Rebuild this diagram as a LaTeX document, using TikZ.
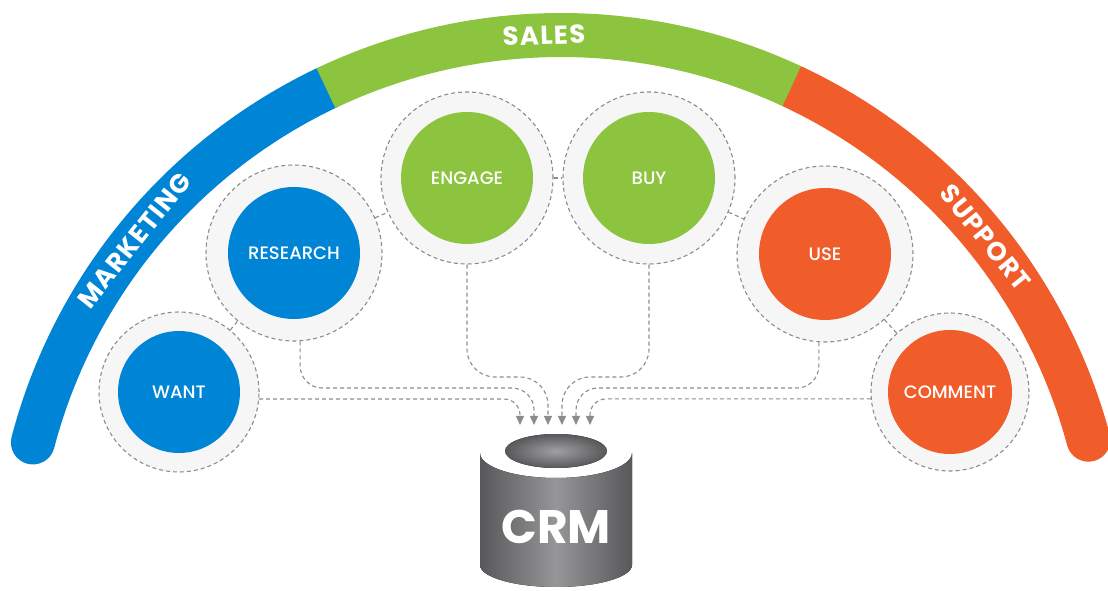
\documentclass[tikz,border=0pt]{standalone}
\usepackage{fontspec}
\setmainfont{Poppins}
\newfontfamily\labelfont{Poppins Medium}
\usetikzlibrary{positioning,arrows.meta}

\definecolor{mktblue}{RGB}{0,132,214}
\definecolor{salesgreen}{RGB}{141,196,63}
\definecolor{suporange}{RGB}{240,92,42}
\definecolor{ringgray}{RGB}{246,246,246}
\definecolor{dashgray}{RGB}{140,140,140}
\definecolor{crmdark}{RGB}{88,88,90}
\definecolor{crmlight}{RGB}{150,150,152}

\tikzset{
  ring/.style={circle, inner sep=0, minimum size=#1, fill=ringgray, draw=dashgray,
    line width=1.1pt, dash pattern=on 4pt off 3pt},
  stage/.style={circle, inner sep=0, fill=#1, text=white,
    font=\labelfont\fontsize{18}{20}\selectfont},
  band/.style={line width=44pt, draw=#1},
  bandtext/.style={text=white, font=\fontsize{26}{28}\selectfont\bfseries\addfontfeature{LetterSpace=5}},
  link/.style={draw=dashgray, line width=1.1pt, dash pattern=on 4pt off 3pt},
  feed/.style={link, rounded corners=#1, -{Triangle[width=8pt,length=9pt]}}
}

\begin{document}
\begin{tikzpicture}[x=1pt, y=1pt]
\useasboundingbox (0,0) rectangle (1108,591);

\def\cx{561}
\def\cy{10}
\def\R{546}

\draw[band=mktblue, line cap=round] (\cx,\cy) ++(165.3:\R) arc[start angle=165.3, end angle=115.5, radius=\R];
\draw[band=suporange, line cap=round] (\cx,\cy) ++(65:\R) arc[start angle=65, end angle=15, radius=\R];
\draw[band=salesgreen] (\cx,\cy) ++(115.5:\R) arc[start angle=115.5, end angle=65, radius=\R];

\node[bandtext, rotate=51.4] (marketing) at ([shift={(141.4:\R)}]\cx,\cy) {MARKETING};
\node[bandtext, rotate=1.8] (sales) at ([shift={(91.8:\R)}]\cx,\cy) {SALES};
\node[bandtext, rotate=-51] (support) at ([shift={(39:\R)}]\cx,\cy) {SUPPORT};

\node[ring=160pt] (wantring) at (179,199) {};
\node[ring=176pt] (researchring) at (294,338) {};
\node[ring=172pt] (engagering) at (467,413) {};
\node[ring=172pt] (buyring) at (649,413) {};
\node[ring=176pt] (usering) at (825,337) {};
\node[ring=158pt] (commentring) at (950,199) {};

\draw[link] (wantring) -- (researchring);
\draw[link] (researchring) -- (engagering);
\draw[link] (engagering) -- (buyring);
\draw[link] (buyring) -- (usering);
\draw[link] (usering) -- (commentring);

\node[stage=mktblue, minimum size=122pt] (want) at (wantring) {WANT};
\node[stage=mktblue, minimum size=132pt] (research) at (researchring) {RESEARCH};
\node[stage=salesgreen, minimum size=132pt] (engage) at (engagering) {ENGAGE};
\node[stage=salesgreen, minimum size=132pt] (buy) at (buyring) {BUY};
\node[stage=suporange, minimum size=132pt] (use) at (usering) {USE};
\node[stage=suporange, minimum size=124pt] (comment) at (commentring) {COMMENT};

\foreach \i/\x in {1/520,2/534,3/548,4/562,5/576,6/590}
  \coordinate (tip\i) at (\x,166);

\draw[feed=16pt] (wantring.-5) -| (tip1);
\draw[feed=22pt] (researchring.-86) |- ([yshift=37pt]tip2) -- (tip2);
\draw[feed=28pt] (engagering.south) |- ([yshift=48pt]tip3) -- (tip3);
\draw[feed=28pt] (buyring.south) |- ([yshift=48pt]tip4) -- (tip4);
\draw[feed=22pt] (usering.-94) |- ([yshift=37pt]tip5) -- (tip5);
\draw[feed=16pt] (commentring.185) -| (tip6);

\fill[left color=crmdark, right color=crmdark, middle color=crmlight]
  (480,138) -- (480,26) arc[start angle=180, end angle=360, x radius=76, y radius=22]
  -- (632,138) arc[start angle=0, end angle=-180, x radius=76, y radius=25] -- cycle;
\fill[inner color=crmlight!90, outer color=crmdark] (556,140) ellipse[x radius=51, y radius=17];
\node[text=white, font=\fontsize{47}{50}\selectfont\bfseries] (crm) at (556,64) {CRM};

\end{tikzpicture}
\end{document}
